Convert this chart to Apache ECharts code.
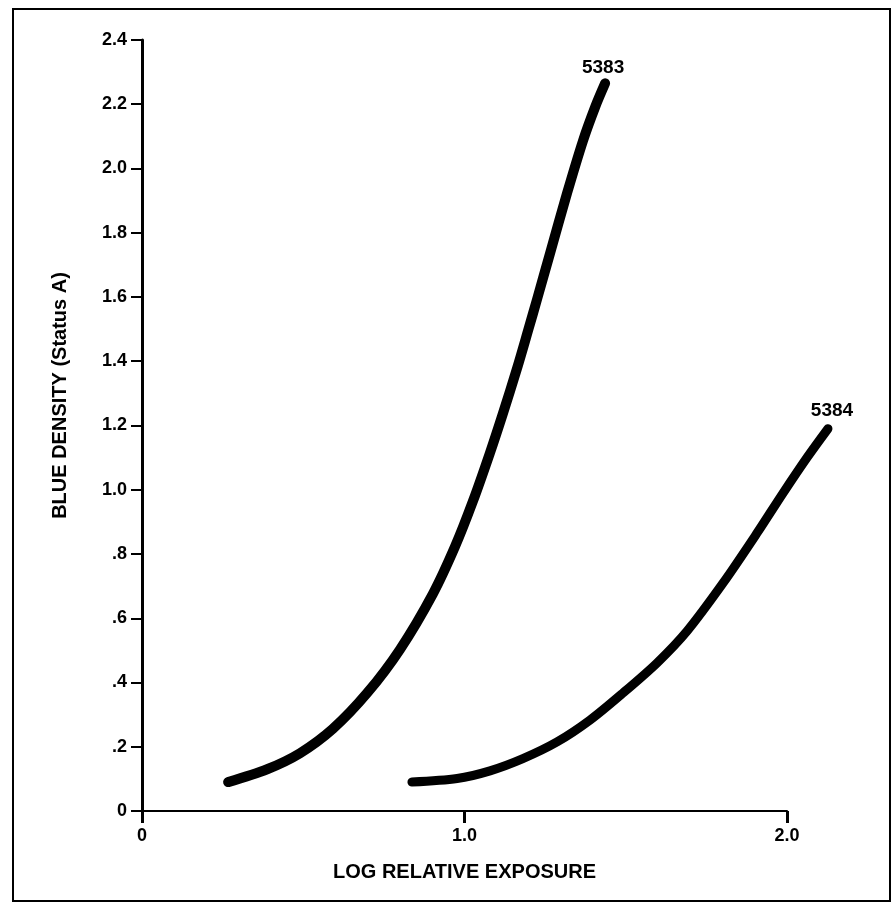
<!DOCTYPE html>
<html>
<head>
<meta charset="utf-8">
<title>Blue density vs log relative exposure</title>
<script src="https://cdn.jsdelivr.net/npm/echarts@6/dist/echarts.min.js"></script>
<style>
  html, body { margin: 0; padding: 0; background: #fff; }
  #chart { width: 896px; height: 906px; }
</style>
</head>
<body>
<div id="chart"></div>
<script>
// Characteristic curves (blue density, Status A) for two film stocks
const stockNames = ['5383', '5384'];

const exposure5383 = [0.267, 0.388, 0.490, 0.592, 0.698, 0.800, 0.902, 0.971, 1.026, 1.079, 1.119, 1.163, 1.197, 1.225, 1.265, 1.318, 1.367, 1.405, 1.436];
const density5383  = [0.090, 0.130, 0.180, 0.256, 0.367, 0.503, 0.676, 0.824, 0.964, 1.115, 1.237, 1.378, 1.495, 1.593, 1.735, 1.923, 2.085, 2.191, 2.265];

const exposure5384 = [0.837, 0.977, 1.079, 1.181, 1.287, 1.389, 1.491, 1.597, 1.690, 1.802, 1.907, 1.988, 2.062, 2.127];
const density5384  = [0.090, 0.101, 0.125, 0.163, 0.215, 0.283, 0.367, 0.461, 0.560, 0.710, 0.865, 0.990, 1.100, 1.190];

const xTickLabels = ['0', '1.0', '2.0'];
const yTickLabels = ['0', '.2', '.4', '.6', '.8', '1.0', '1.2', '1.4', '1.6', '1.8', '2.0', '2.2', '2.4'];

const FONT = '"Liberation Sans", Arial, Helvetica, sans-serif';
const INK = '#000';

// Plot frame: the visible axes run 0..2.0; the curves live on a wider,
// hidden twin grid with the same pixels-per-unit so 5384 can run past 2.0.
const PLOT_LEFT = 142, PLOT_TOP = 40, PLOT_W = 645, PLOT_H = 771;
const X_MAX = 2.0, X_MAX_CURVES = 2.2;

function buildSeriesData(xs, ys, name, labelOpts) {
  return xs.map((x, i) => {
    const pt = { value: [x, ys[i]] };
    if (i === xs.length - 1) {
      pt.label = Object.assign({
        show: true,
        formatter: name,
        position: 'top',
        color: INK,
        fontFamily: FONT,
        fontWeight: 'bold',
        fontSize: 19
      }, labelOpts);
    }
    return pt;
  });
}

function curveSeries(name, xs, ys, width, labelOpts) {
  return {
    name: name,
    type: 'line',
    xAxisIndex: 1,
    yAxisIndex: 1,
    data: buildSeriesData(xs, ys, name, labelOpts),
    smooth: 0.3,
    clip: false,
    showSymbol: true,
    symbol: 'circle',
    symbolSize: 0,
    itemStyle: { color: INK },
    lineStyle: { color: INK, width: width, cap: 'round', join: 'round' },
    emphasis: { disabled: true },
    silent: true,
    z: 5
  };
}

const hiddenAxis = {
  show: false,
  axisLine: { show: false }, axisTick: { show: false },
  axisLabel: { show: false }, splitLine: { show: false }
};

const chart = echarts.init(document.getElementById('chart'), null, { renderer: 'canvas' });

chart.setOption({
  backgroundColor: '#fff',
  animation: false,
  grid: [
    { left: PLOT_LEFT, top: PLOT_TOP, width: PLOT_W, height: PLOT_H, containLabel: false },
    { left: PLOT_LEFT, top: PLOT_TOP, width: PLOT_W * X_MAX_CURVES / X_MAX, height: PLOT_H, containLabel: false }
  ],
  xAxis: [{
    type: 'value',
    gridIndex: 0,
    min: 0,
    max: X_MAX,
    interval: 1,
    name: 'LOG RELATIVE EXPOSURE',
    nameLocation: 'middle',
    nameGap: 51,
    nameTextStyle: { color: INK, fontFamily: FONT, fontWeight: 'bold', fontSize: 20 },
    axisLine: { show: true, onZero: false, lineStyle: { color: INK, width: 2 } },
    axisTick: { show: true, inside: false, length: 12, lineStyle: { color: INK, width: 3 } },
    axisLabel: {
      color: INK, fontFamily: FONT, fontWeight: 'bold', fontSize: 18, margin: 16,
      formatter: v => xTickLabels[Math.round(v)]
    },
    splitLine: { show: false }
  }, Object.assign({ type: 'value', gridIndex: 1, min: 0, max: X_MAX_CURVES }, hiddenAxis)],
  yAxis: [{
    type: 'value',
    gridIndex: 0,
    min: 0,
    max: 2.4,
    interval: 0.2,
    name: 'BLUE DENSITY (Status A)',
    nameLocation: 'middle',
    nameGap: 72,
    nameTextStyle: {
      color: INK, fontFamily: FONT, fontWeight: 'bold', fontSize: 20,
      padding: [0, 0, 0, 60]
    },
    axisLine: { show: true, onZero: false, lineStyle: { color: INK, width: 3 } },
    axisTick: { show: true, inside: false, length: 11, lineStyle: { color: INK, width: 2 } },
    axisLabel: {
      color: INK, fontFamily: FONT, fontWeight: 'bold', fontSize: 18, margin: 15,
      formatter: v => yTickLabels[Math.round(v / 0.2)]
    },
    splitLine: { show: false }
  }, Object.assign({ type: 'value', gridIndex: 1, min: 0, max: 2.4 }, hiddenAxis)],
  graphic: [{
    type: 'rect',
    shape: { x: 13, y: 9, width: 877, height: 892 },
    style: { fill: 'none', stroke: INK, lineWidth: 2 },
    silent: true,
    z: 0
  }],
  series: [
    curveSeries(stockNames[0], exposure5383, density5383, 10, { distance: 6, offset: [-2, 0] }),
    curveSeries(stockNames[1], exposure5384, density5384, 9, { distance: 8, offset: [4, 0] })
  ]
});
</script>
</body>
</html>
